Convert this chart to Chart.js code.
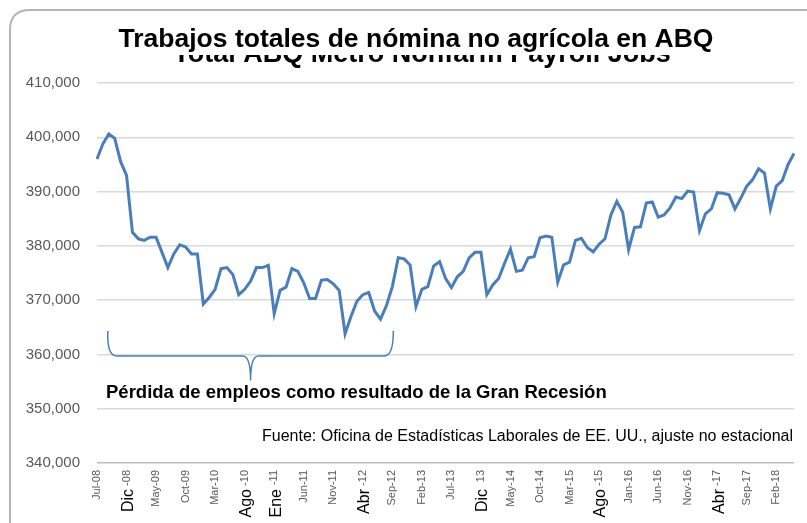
<!DOCTYPE html>
<html>
<head>
<meta charset="utf-8">
<script src="https://cdn.jsdelivr.net/npm/chart.js@4"></script>
<style>
    body { margin: 0; background: #fff; }
    #wrap { width: 807px; height: 523px; }
</style>
</head>
<body>
<div id="wrap"><canvas id="myChart" width="807" height="523"></canvas></div>
<script>
// monthly payroll jobs, Jul-08 .. May-18
const jobs = [
    396000, 398800, 400600, 399800, 395500, 393000, 382500, 381300, 381000, 381600,
    381600, 378800, 376000, 378500, 380200, 379800, 378500, 378500, 369300, 370500,
    372000, 375800, 376000, 374700, 371000, 372000, 373500, 376000, 376000, 376400,
    367500, 371800, 372400, 375800, 375300, 373200, 370300, 370300, 373700, 373800,
    373000, 371800, 363800, 367000, 369800, 371000, 371400, 368000, 366500, 369000,
    372500, 377800, 377600, 376500, 368800, 372000, 372500, 376300, 377100, 374000,
    372300, 374300, 375300, 377800, 378800, 378800, 371000, 372800, 374000, 376800,
    379400, 375300, 375500, 377800, 378000, 381500, 381800, 381600, 373300, 376500,
    377000, 381000, 381400, 379700, 378900, 380300, 381300, 385700, 388200, 386200,
    379300, 383400, 383500, 387900, 388100, 385300, 385700, 387000, 389000, 388700,
    390100, 389900, 382800, 385900, 386800, 389800, 389700, 389400, 386800, 388800,
    391000, 392200, 394200, 393400, 386800, 391000, 392000, 395000, 397000
];

const monthNames = ["Jan", "Feb", "Mar", "Apr", "May", "Jun", "Jul", "Aug", "Sep", "Oct", "Nov", "Dec"];
const categories = jobs.map((v, i) => {
    const m = (6 + i) % 12;
    const y = 8 + Math.floor((6 + i) / 12);
    return monthNames[m] + "-" + String(y).padStart(2, "0");
});

// one label every 5 months
const tickLabels = [
    "Jul-08", "-08", "May-09", "Oct-09", "Mar-10", "-10", "-11", "Jun-11",
    "Nov-11", "-12", "Sep-12", "Feb-13", "Jul-13", "13", "May-14", "Oct-14",
    "Mar-15", "-15", "Jan-16", "Jun-16", "Nov-16", "-17", "Sep-17", "Feb-18"
];
// translated month names pasted over some labels
const overlayWords = { 1: "Dic", 5: "Ago", 6: "Ene", 9: "Abr", 13: "Dic", 17: "Ago", 21: "Abr" };

const yTicks = [340000, 350000, 360000, 370000, 380000, 390000, 400000, 410000];

const titleText = "Trabajos totales de nómina no agrícola en ABQ";
const oldTitle = "Total ABQ Metro Nonfarm Payroll Jobs";
const noteText = "Pérdida de empleos como resultado de la Gran Recesión";
const sourceText = "Fuente: Oficina de Estadísticas Laborales de EE. UU., ajuste no estacional";

const blue = "#4a7ebb";
const font = "Arial, 'Liberation Sans', sans-serif";

const decorations = {
    id: "decorations",
    beforeDraw(chart) {
        const ctx = chart.ctx;
        ctx.save();
        ctx.fillStyle = "#fff";
        ctx.fillRect(0, 0, chart.width, chart.height);
        // outer frame
        ctx.strokeStyle = "#b4b4b4";
        ctx.lineWidth = 2;
        ctx.beginPath();
        ctx.moveTo(10, 560);
        ctx.lineTo(10, 30);
        ctx.quadraticCurveTo(10, 10, 30, 10);
        ctx.lineTo(820, 10);
        ctx.stroke();
        ctx.restore();
    },
    afterDraw(chart) {
        const ctx = chart.ctx;
        const xs = chart.scales.x;
        const ys = chart.scales.y;
        ctx.save();

        // old english title, mostly covered
        ctx.save();
        ctx.beginPath();
        ctx.rect(0, 55, chart.width, 20);
        ctx.clip();
        ctx.fillStyle = "#000";
        ctx.font = "bold 27px " + font;
        ctx.textAlign = "center";
        ctx.textBaseline = "alphabetic";
        ctx.fillText(oldTitle, 422, 62);
        ctx.restore();

        ctx.fillStyle = "#000";
        ctx.font = "bold 26.5px " + font;
        ctx.textAlign = "center";
        ctx.textBaseline = "alphabetic";
        ctx.fillText(titleText, 416, 47);

        // curly brace under the recession period
        const x0 = xs.getPixelForValue(2);
        const x1 = xs.getPixelForValue(50);
        const xm = (x0 + x1) / 2;
        const yTop = ys.getPixelForValue(364300);
        const yMid = ys.getPixelForValue(359700);
        const yTip = ys.getPixelForValue(355200);
        ctx.strokeStyle = blue;
        ctx.lineWidth = 1.5;
        ctx.beginPath();
        ctx.moveTo(x0 - 1, yTop);
        ctx.quadraticCurveTo(x0 - 2, yMid, x0 + 8, yMid);
        ctx.lineTo(xm - 8, yMid);
        ctx.quadraticCurveTo(xm, yMid, xm, yTip);
        ctx.quadraticCurveTo(xm, yMid, xm + 8, yMid);
        ctx.lineTo(x1 - 8, yMid);
        ctx.quadraticCurveTo(x1 + 1, yMid, x1 + 1, yTop);
        ctx.stroke();

        ctx.fillStyle = "#000";
        ctx.textAlign = "left";
        ctx.textBaseline = "middle";
        ctx.font = "bold 18.5px " + font;
        ctx.fillText(noteText, 106, 393);

        ctx.textAlign = "right";
        ctx.font = "16px " + font;
        ctx.fillText(sourceText, 793, 437);

        // big overlay month words on the axis
        ctx.font = "16px " + font;
        ctx.fillStyle = "#000";
        Object.keys(overlayWords).forEach((k) => {
            const x = xs.getPixelForValue(Number(k) * 5);
            ctx.save();
            ctx.translate(x + 2, 489);
            ctx.rotate(-Math.PI / 2);
            ctx.textAlign = "right";
            ctx.textBaseline = "middle";
            ctx.fillText(overlayWords[k], 0, 0);
            ctx.restore();
        });
        ctx.restore();
    },
};

const ctx = document.getElementById("myChart");
new Chart(ctx, {
    type: "line",
    data: {
        labels: categories,
        datasets: [
            {
                label: "Jobs",
                data: jobs,
                borderColor: blue,
                borderWidth: 3,
                pointRadius: 0,
                tension: 0,
                fill: false,
            },
        ],
    },
    options: {
        responsive: false,
        animation: false,
        layout: { padding: { top: 83, right: 13, left: 0, bottom: 0 } },
        plugins: {
            legend: { display: false },
            tooltip: { enabled: false },
        },
        scales: {
            x: {
                offset: false,
                grid: { display: false, drawTicks: false },
                border: { display: false },
                afterFit(scale) {
                    scale.height = 60;
                },
                ticks: {
                    autoSkip: false,
                    minRotation: 90,
                    maxRotation: 90,
                    padding: 7,
                    color: "#595959",
                    font: { family: font, size: 11 },
                    callback: (value, index) => (index % 5 === 0 ? tickLabels[index / 5] : null),
                },
            },
            y: {
                min: yTicks[0],
                max: yTicks[yTicks.length - 1],
                afterFit(scale) {
                    scale.width = 97;
                },
                afterBuildTicks(scale) {
                    scale.ticks = yTicks.map((v) => ({ value: v }));
                },
                grid: {
                    drawTicks: false,
                    lineWidth: 1.5,
                    color: (c) => (c.index === 0 ? "#bdbdbd" : "#d9d9d9"),
                },
                border: { display: false },
                ticks: {
                    padding: 17,
                    color: "#595959",
                    font: { family: font, size: 15 },
                    callback: (v) => v.toLocaleString("en-US"),
                },
            },
        },
    },
    plugins: [decorations],
});
</script>
</body>
</html>
